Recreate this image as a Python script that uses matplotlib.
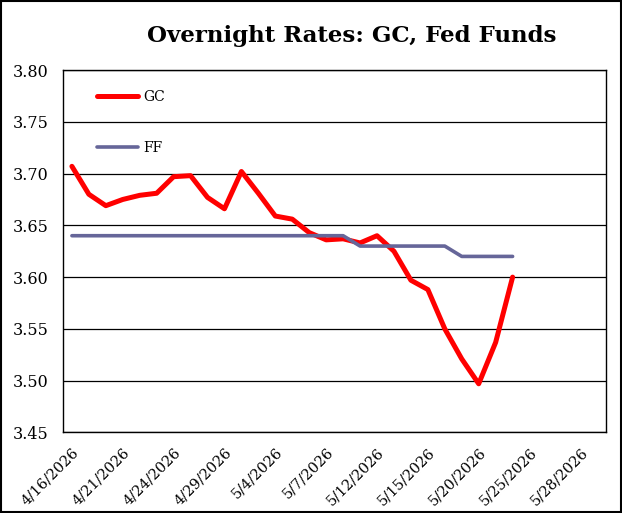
import matplotlib
matplotlib.use("Agg")
import matplotlib.pyplot as plt
from matplotlib.patches import Rectangle

# category labels shown on the x axis (every 3rd business day)
tick_labels = ["4/16/2026", "4/21/2026", "4/24/2026", "4/29/2026", "5/4/2026",
               "5/7/2026", "5/12/2026", "5/15/2026", "5/20/2026", "5/25/2026",
               "5/28/2026"]
n_categories = 32

# overnight rates, one value per business day from 4/16/2026
gc = [3.707, 3.680, 3.669, 3.675, 3.679, 3.681, 3.697, 3.698, 3.677, 3.666,
      3.702, 3.681, 3.659, 3.656, 3.643, 3.636, 3.637, 3.633, 3.640, 3.625,
      3.597, 3.588, 3.550, 3.521, 3.497, 3.537, 3.600]
ff = [3.64] * 17 + [3.63] * 6 + [3.62] * 4

serif = "DejaVu Serif"
plt.rcParams['font.family'] = serif

fig = plt.figure(figsize=(6.22, 5.13), dpi=100)
ax = fig.add_axes([0.102, 0.157, 0.872, 0.7065])

ax.plot(range(len(gc)), gc, color="#ff0000", lw=3.6, label="GC",
        solid_joinstyle="round", solid_capstyle="round")
ax.plot(range(len(ff)), ff, color="#666699", lw=2.6, label="FF",
        solid_joinstyle="round", solid_capstyle="round")

ax.set_xlim(-0.5, n_categories - 0.5)
ax.set_ylim(3.45, 3.80)
ax.set_yticks([3.45, 3.50, 3.55, 3.60, 3.65, 3.70, 3.75, 3.80])
ax.set_yticklabels([f"{v:.2f}" for v in ax.get_yticks()], fontsize=11.5)
ax.set_xticks(range(0, n_categories, 3))
ax.set_xticklabels(tick_labels, rotation=45, ha="right", va="top",
                   rotation_mode="anchor", fontsize=10.5)
ax.tick_params(axis="y", length=0, pad=11)
ax.tick_params(axis="x", length=0, pad=9)
ax.grid(axis="y", color="black", lw=0.9)
ax.set_axisbelow(True)
for s in ax.spines.values():
    s.set_color("black")
    s.set_linewidth(1.0)

ax.legend(loc="upper left", bbox_to_anchor=(0.062, 0.945), frameon=False,
          fontsize=10, handlelength=2.95, handletextpad=0.35,
          labelspacing=2.65, borderpad=0, borderaxespad=0)

fig.text(0.566, 0.93, "Overnight Rates: GC, Fed Funds", ha="center",
         va="center", fontsize=16.5, fontweight="bold")

fig.patches.append(Rectangle((0.0015, 0.002), 0.997, 0.996,
                             transform=fig.transFigure, fill=False,
                             edgecolor="black", lw=1.5))

fig.savefig("out.png", dpi=100)
